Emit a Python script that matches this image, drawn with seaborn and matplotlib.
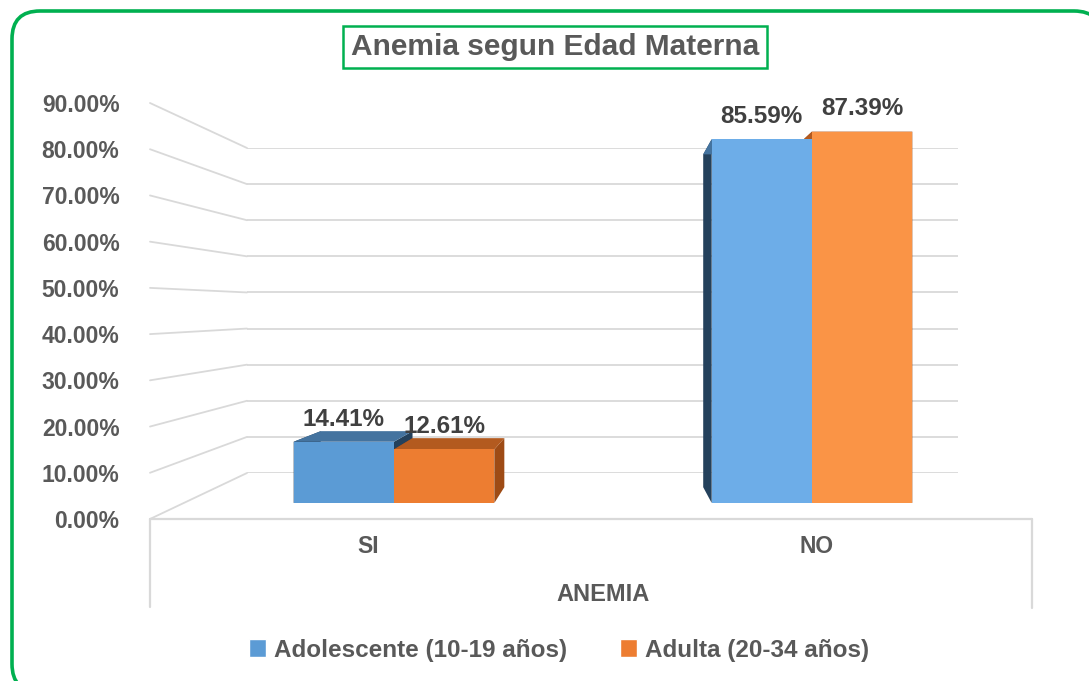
import matplotlib
matplotlib.use("Agg")
import matplotlib.pyplot as plt
from matplotlib.patches import FancyBboxPatch, Polygon
from matplotlib.transforms import ScaledTranslation
import seaborn as sns
import pandas as pd
import numpy as np

# data
categories = ["SI", "NO"]
groups = ["Adolescente (10-19 años)", "Adulta (20-34 años)"]
adolescente = [14.41, 85.59]
adulta = [12.61, 87.39]
y_ticks = [0, 10, 20, 30, 40, 50, 60, 70, 80, 90]

df = pd.DataFrame({
    "anemia": categories * 2,
    "grupo": [groups[0]] * 2 + [groups[1]] * 2,
    "pct": adolescente + adulta,
})

TXT = "#595959"
GRID = "#D9D9D9"
GREEN = "#00B050"
palette = ["#5B9BD5", "#ED7D31"]
front_cols = [["#5B9BD5", "#6DADE8"], ["#ED7D31", "#FA9446"]]
top_cols = ["#44739F", "#B35A1F"]
side_cols = ["#24415C", "#9E4B15"]

sns.set_style("white")
plt.rcParams["font.family"] = ["Liberation Sans", "DejaVu Sans"]

W, H = 1089, 681
fig = plt.figure(figsize=(W / 100, H / 100), dpi=100)

# decoration layer in pixel (display) coordinates
deco = fig.add_axes([0, 0, 1, 1])
deco.set_xlim(0, W)
deco.set_ylim(0, H)
deco.axis("off")
deco.set_zorder(0)

def px(x, y):
    # pixel from top-left -> display coords
    return x, H - y

# outer rounded green border
deco.add_patch(FancyBboxPatch(px(12, 692), 1090, 681, boxstyle="round,pad=0,rounding_size=28",
                              fc="white", ec=GREEN, lw=2.6))

# back wall
wall = fig.add_axes([247 / W, (H - 473) / H, 711 / W, 325 / H])
wall.set_ylim(0, 90)
wall.set_xlim(0, 1)
wall.set_yticks(y_ticks)
wall.set_xticks([])
wall.tick_params(left=False, labelleft=False)
wall.grid(axis="y", color=GRID, lw=1.3)
for s in wall.spines.values():
    s.set_visible(False)
wall.patch.set_alpha(0)
wall.set_zorder(1)

# front value axis (labels only)
front = fig.add_axes([150 / W, (H - 519) / H, 0.001, 416 / H])
front.set_ylim(0, 90)
front.set_yticks(y_ticks)
front.set_yticklabels([f"{v:.2f}%" for v in y_ticks])
front.set_xticks([])
front.tick_params(axis="y", length=0, pad=22, labelsize=16.5, labelcolor=TXT)
for lab in front.get_yticklabels():
    lab.set_fontweight("bold")
for s in front.spines.values():
    s.set_visible(False)
front.patch.set_alpha(0)
front.set_zorder(1)

# side wall connectors
for v in y_ticks:
    fx, fy = front.transData.transform((0, v))
    bx, by = wall.transData.transform((0, v))
    deco.plot([fx, bx], [fy, by], color=GRID, lw=1.3)

# floor front edge and verticals
deco.plot([150, 1032], [H - 519, H - 519], color=GRID, lw=1.6)
deco.plot([150, 150], [H - 519, H - 607], color=GRID, lw=1.6)
deco.plot([1032, 1032], [H - 519, H - 608], color=GRID, lw=1.6)

# bars
ax = fig.add_axes([185 / W, (H - 503) / H, 836 / W, 382.5 / H])
ax.set_zorder(2)
ax.patch.set_alpha(0)
sns.barplot(data=df, x="anemia", y="pct", hue="grupo", palette=palette, saturation=1,
            width=0.48, errorbar=None, ax=ax, zorder=2)
ax.set_xlim(-0.5, 1.5)
ax.set_ylim(0, 90)
handles, labels = ax.get_legend_handles_labels()
ax.get_legend().remove()

# pseudo-3D depth faces
vp = np.array(px(612, 317))
k = 0.085
inv = ax.transData.inverted()
for gi, cont in enumerate(ax.containers):
    for ci, bar in enumerate(cont.patches):
        bar.set_facecolor(front_cols[gi][ci])
        bar.set_edgecolor("none")
        x0, y0 = bar.get_x(), bar.get_y()
        x1, y1 = x0 + bar.get_width(), y0 + bar.get_height()
        pts = ax.transData.transform([(x0, y0), (x1, y0), (x1, y1), (x0, y1)])
        back = pts + k * (vp - pts)
        fl, fr, ftr, ftl = pts
        bl, br, btr, btl = back
        faces = [
            ([fl, ftl, btl, bl], side_cols[gi]),
            ([fr, ftr, btr, br], side_cols[gi]),
            ([ftl, ftr, btr, btl], top_cols[gi]),
        ]
        for poly, col in faces:
            ax.add_patch(Polygon(inv.transform(poly), closed=True, fc=col, ec="none", zorder=1))

# data labels
for gi, cont in enumerate(ax.containers):
    ax.bar_label(cont, labels=[f"{v:.2f}%" for v in cont.datavalues], padding=8,
                 fontsize=17.5, fontweight="bold", color="#404040")

ax.set_yticks([])
ax.set_ylabel("")
ax.set_xlabel("ANEMIA", fontsize=17, fontweight="bold", color=TXT, labelpad=18)
ax.tick_params(axis="x", length=0, pad=23, labelsize=16.5, labelcolor=TXT)
# perspective shift of the category labels on the floor
shifts = [-26, 5]
for lab, dx in zip(ax.get_xticklabels(), shifts):
    lab.set_fontweight("bold")
    lab.set_transform(lab.get_transform() + ScaledTranslation(dx / 100, 0, fig.dpi_scale_trans))
sns.despine(ax=ax, left=True, bottom=True)

# title
deco.text(555, H - 47, "Anemia segun Edad Materna", ha="center", va="center",
          fontsize=21.5, fontweight="bold", color=TXT,
          bbox=dict(boxstyle="square,pad=0.25", fc="white", ec=GREEN, lw=1.8))

# legend
fig.legend(handles, labels, loc="center", bbox_to_anchor=(559 / W, (H - 650) / H), ncol=2,
           frameon=False, prop={"weight": "bold", "size": 17.5}, labelcolor=TXT,
           handlelength=0.7, handleheight=0.7, handletextpad=0.3, columnspacing=2.2)

fig.savefig("out.png", dpi=100)
plt.close(fig)
